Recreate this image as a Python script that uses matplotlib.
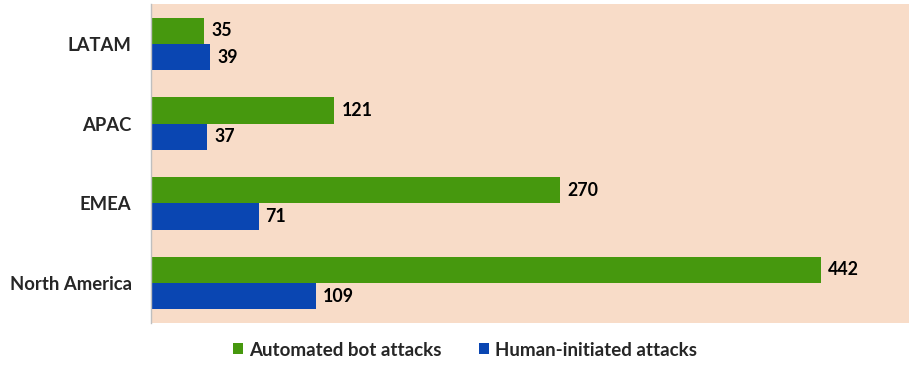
import matplotlib
matplotlib.use("Agg")
import matplotlib.pyplot as plt
import numpy as np

categories = ["North America", "EMEA", "APAC", "LATAM"]
bot_attacks = [442, 270, 121, 35]
human_attacks = [109, 71, 37, 39]
series_names = ["Automated bot attacks", "Human-initiated attacks"]

GREEN = "#46980E"
BLUE = "#0A46B2"
PEACH = "#F8DCC8"

plt.rcParams['font.family'] = ['Lato', 'DejaVu Sans']

fig = plt.figure(figsize=(9.09, 3.71), dpi=100)
ax = fig.add_axes([151/909, 1 - 323/371, (909-151)/909, (323-4)/371])
ax.set_facecolor(PEACH)

y = np.arange(len(categories))
h = 0.33
b1 = ax.barh(y + h/2, bot_attacks, height=h, color=GREEN, label=series_names[0])
b2 = ax.barh(y - h/2, human_attacks, height=h, color=BLUE, label=series_names[1])

for bars, vals in ((b1, bot_attacks), (b2, human_attacks)):
    for rect, v in zip(bars, vals):
        ax.annotate(str(v), (rect.get_width(), rect.get_y() + rect.get_height()/2),
                    xytext=(5, 0), textcoords="offset points", va="center", ha="left",
                    fontsize=12.8, fontweight="bold", color="black")

ax.set_xlim(0, 500)
ax.set_ylim(-0.5, 3.5)
ax.set_yticks(y)
ax.set_yticklabels(categories, fontsize=13.3, fontweight="bold", color="#262626")
ax.tick_params(axis="y", length=0, pad=14)
ax.set_xticks([])
for s in ("top", "right", "bottom"):
    ax.spines[s].set_visible(False)
ax.spines["left"].set_color("#BFBFBF")
ax.spines["left"].set_linewidth(1)

leg = fig.legend(handles=[b1, b2], labels=series_names, loc="center",
                 bbox_to_anchor=(465/909, 1 - 350/371), ncol=2, frameon=False,
                 prop={"size": 13.5, "weight": "bold"}, handlelength=0.53, handleheight=0.53,
                 handletextpad=0.32, columnspacing=2.0)
for t in leg.get_texts():
    t.set_color("#262626")

fig.savefig("out.png", dpi=100, facecolor="white")
